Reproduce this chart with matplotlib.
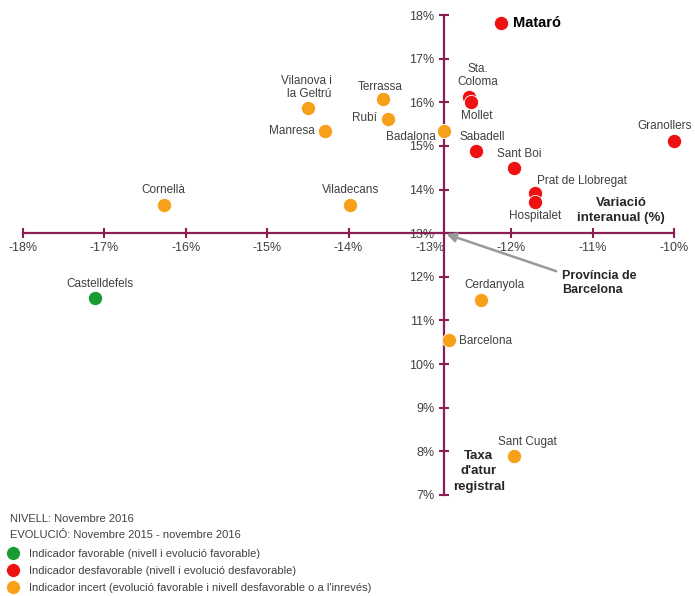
import matplotlib.pyplot as plt
from matplotlib.lines import Line2D

plt.rcParams['font.family'] = ['Liberation Sans', 'DejaVu Sans']

# data: interannual variation (%) vs registered unemployment rate (%)
cities = ['Mataró', 'Sta.\nColoma', 'Mollet', 'Granollers', 'Sabadell', 'Sant Boi',
          'Prat de Llobregat', 'Hospitalet', 'Vilanova i\nla Geltrú', 'Terrassa', 'Rubí',
          'Manresa', 'Badalona', 'Cornellà', 'Viladecans', 'Castelldefels',
          'Cerdanyola', 'Barcelona', 'Sant Cugat']
variacio = [-12.12, -12.52, -12.49, -10.0, -12.43, -11.97, -11.71, -11.71, -14.50, -13.58,
            -13.52, -14.29, -12.83, -16.27, -13.98, -17.12, -12.37, -12.76, -11.97]
taxa = [17.82, 16.12, 16.0, 15.12, 14.89, 14.50, 13.93, 13.72, 15.87, 16.08, 15.62,
        15.35, 15.35, 13.65, 13.65, 11.52, 11.46, 10.56, 7.89]
tipus = ['d', 'd', 'd', 'd', 'd', 'd', 'd', 'd', 'i', 'i', 'i', 'i', 'i', 'i', 'i', 'f',
         'i', 'i', 'i']

provincia_x = -12.83
provincia_y = 13.0

x_ticks = [-18, -17, -16, -15, -14, -13, -12, -11, -10]
y_ticks = [7, 8, 9, 10, 11, 12, 13, 14, 15, 16, 17, 18]

colors = {'f': '#1a9a32', 'd': '#ee1111', 'i': '#f7a11a'}
axis_color = '#8b1e55'
text_color = '#404040'

# label placement: offset in pixels and alignment
label_pos = {
    'Mataró': (12, 0, 'left', 'center'),
    'Sta.\nColoma': (9, 9, 'center', 'bottom'),
    'Mollet': (5, -14, 'center', 'center'),
    'Granollers': (-9, 15, 'center', 'center'),
    'Sabadell': (6, 14, 'center', 'center'),
    'Sant Boi': (6, 14, 'center', 'center'),
    'Prat de Llobregat': (2, 12, 'left', 'center'),
    'Hospitalet': (0, -14, 'center', 'center'),
    'Vilanova i\nla Geltrú': (24, 8, 'right', 'bottom'),
    'Terrassa': (-2, 12, 'center', 'center'),
    'Rubí': (-11, 1, 'right', 'center'),
    'Manresa': (-10, 0, 'right', 'center'),
    'Badalona': (-8, -6, 'right', 'center'),
    'Cornellà': (0, 15, 'center', 'center'),
    'Viladecans': (0, 15, 'center', 'center'),
    'Castelldefels': (5, 14, 'center', 'center'),
    'Cerdanyola': (13, 15, 'center', 'center'),
    'Barcelona': (10, -1, 'left', 'center'),
    'Sant Cugat': (14, 14, 'center', 'center'),
}

fig = plt.figure(figsize=(6.95, 5.96), dpi=100)
ax = fig.add_axes([23 / 695, 101 / 596, 651 / 695, 480 / 596])

for x, y, t in zip(variacio, taxa, tipus):
    ax.scatter(x, y, s=105, color=colors[t], edgecolor='white', linewidth=0.6,
               zorder=3, clip_on=False)

for name, x, y in zip(cities, variacio, taxa):
    dx, dy, ha, va = label_pos[name]
    if name == 'Mataró':
        ax.annotate(name, (x, y), xytext=(dx, dy), textcoords='offset pixels',
                    ha=ha, va=va, fontsize=10.5, fontweight='bold', color='black')
    else:
        ax.annotate(name, (x, y), xytext=(dx, dy), textcoords='offset pixels',
                    ha=ha, va=va, fontsize=8.5, color=text_color, linespacing=1.1)

ax.set_xlim(-18, -10)
ax.set_ylim(7, 18)
ax.spines['left'].set_position(('data', provincia_x))
ax.spines['bottom'].set_position(('data', provincia_y))
ax.spines['top'].set_visible(False)
ax.spines['right'].set_visible(False)
for s in ['left', 'bottom']:
    ax.spines[s].set_color(axis_color)
    ax.spines[s].set_linewidth(1.6)

ax.set_xticks(x_ticks)
ax.set_xticklabels([f'{v}%' for v in x_ticks])
ax.set_yticks(y_ticks)
ax.set_yticklabels([f'{v}%' for v in y_ticks])
ax.tick_params(axis='both', direction='inout', length=7, width=1.5, color=axis_color,
               labelsize=9, labelcolor=text_color)
ax.tick_params(axis='x', pad=3)
ax.tick_params(axis='y', pad=3)
# the -13% tick mark is not drawn in the original (only its label)
ax.xaxis.get_major_ticks()[x_ticks.index(-13)].tick1line.set_visible(False)
ax.patch.set_visible(False)

# axis titles
ax.text(-10.65, 13.2, 'Variació\ninteranual (%)', ha='center', va='bottom',
        fontsize=9.5, fontweight='bold', color='#262626', linespacing=1.35)
ax.text(-12.4, 7.05, "Taxa\nd'atur\nregistral", ha='center', va='bottom',
        fontsize=9.5, fontweight='bold', color='#262626', linespacing=1.4)

# arrow to the province point
ax.annotate('Província de\nBarcelona', (provincia_x, provincia_y),
            xytext=(-11.38, 11.85), textcoords='data', ha='left', va='center',
            fontsize=9, fontweight='bold', color='#262626', linespacing=1.2,
            arrowprops=dict(arrowstyle='-|>', color='#999999', lw=1.8,
                            mutation_scale=14, shrinkA=2, shrinkB=2,
                            relpos=(0.0, 0.9)))

# notes and legend
fig.text(10 / 695, 1 - 519 / 596, 'NIVELL: Novembre 2016', fontsize=8,
         color=text_color, va='center')
fig.text(10 / 695, 1 - 535 / 596, 'EVOLUCIÓ: Novembre 2015 - novembre 2016', fontsize=8,
         color=text_color, va='center')

legend_labels = ['Indicador favorable (nivell i evolució favorable)',
                 'Indicador desfavorable (nivell i evolució desfavorable)',
                 "Indicador incert (evolució favorable i nivell desfavorable o a l'inrevés)"]
handles = [Line2D([], [], marker='o', linestyle='', markersize=10, color=colors[k],
                  markeredgecolor='white', markeredgewidth=0.5) for k in ['f', 'd', 'i']]
leg = fig.legend(handles, legend_labels, loc='lower left', bbox_to_anchor=(0.0, -0.008),
                 frameon=False, fontsize=8, labelspacing=0.62, handletextpad=0.9,
                 handlelength=1.0, borderaxespad=0.3)
for t in leg.get_texts():
    t.set_color(text_color)

fig.savefig('out.png', dpi=100)
